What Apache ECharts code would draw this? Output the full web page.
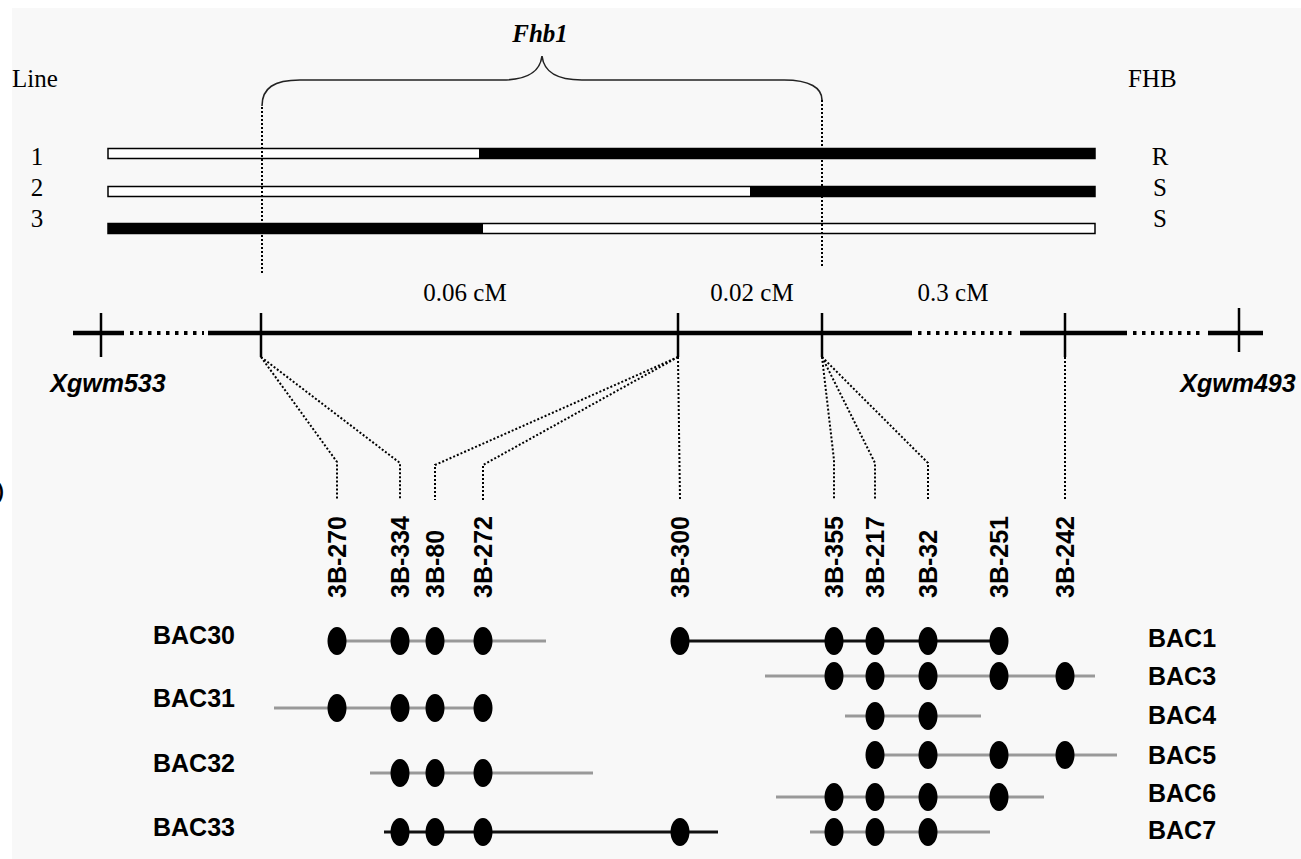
<!DOCTYPE html>
<html><head><meta charset="utf-8">
<script src="https://cdn.jsdelivr.net/npm/echarts@6/dist/echarts.min.js"></script>
<style>html,body{margin:0;padding:0;background:#fff}#c{width:1301px;height:859px}</style>
</head><body><div id="c"></div>
<script>
// ================= DATA =================
// Near-isogenic lines: introgression status along the Fhb1 region
const lineIds      = ['1', '2', '3'];
const fhbScores    = ['R', 'S', 'S'];
const lineRowY     = [153.5, 191.5, 228.5];       // row of each line (diagram units)
const lineLabelY   = [156, 187, 218];              // row of each line's id / score
const lineSpan     = [108, 1095];                  // extent of the drawn chromosome segment
const breakpointX  = [479, 750, 483];              // recombination breakpoint of each line
const donorOnLeft  = [false, false, true];         // resistant (black) segment lies left of breakpoint

// Fhb1 QTL interval
const qtlName   = 'Fhb1';
const qtlBounds = [262, 822];

// Genetic map (diagram units along the chromosome)
const mapRowY        = 333;
const mapTickX       = [101, 261, 678, 822, 1065, 1239];
const flankNames     = ['Xgwm533', 'Xgwm493'];
const flankX         = [108, 1238];
const mapSolid       = [[73, 124], [208, 912], [1020, 1127], [1208, 1263]];
const mapGaps        = [[124, 208], [912, 1020], [1127, 1208]];
const intervalLabels = ['0.06 cM', '0.02 cM', '0.3 cM'];
const intervalX      = [465, 752, 953];

// STS markers derived from BAC ends
const markerNames  = ['3B-270', '3B-334', '3B-80', '3B-272', '3B-300', '3B-355', '3B-217', '3B-32', '3B-251', '3B-242'];
const markerX      = [337, 400, 435, 483, 680, 834, 875, 928, 999, 1065];
const markerMapX   = [261, 261, 678, 678, 678, 822, 822, 822, null, 1065];   // map locus each marker is tied to
const markerKneeY  = [462, 463, 465, 465, null, 460, 463, 463, null, null];

// BAC contig
const bacNames   = ['BAC30', 'BAC31', 'BAC32', 'BAC33', 'BAC1', 'BAC3', 'BAC4', 'BAC5', 'BAC6', 'BAC7'];
const bacSide    = ['L', 'L', 'L', 'L', 'R', 'R', 'R', 'R', 'R', 'R'];
const bacRowY    = [641, 708, 773, 832, 641, 676, 716, 755, 797, 832];
const bacLabelY  = [635, 698, 763, 827, 638, 676, 715, 755, 793, 830];
const bacStart   = [337, 274, 370, 384, 683, 765, 845, 875, 776, 810];
const bacEnd     = [546, 484, 593, 718, 999, 1095, 981, 1117, 1044, 990];
const bacDark    = [false, false, false, true, true, false, false, false, false, false];
const bacMarkers = [
  ['3B-270', '3B-334', '3B-80', '3B-272'],
  ['3B-270', '3B-334', '3B-80', '3B-272'],
  ['3B-334', '3B-80', '3B-272'],
  ['3B-334', '3B-80', '3B-272', '3B-300'],
  ['3B-300', '3B-355', '3B-217', '3B-32', '3B-251'],
  ['3B-355', '3B-217', '3B-32', '3B-251', '3B-242'],
  ['3B-217', '3B-32'],
  ['3B-217', '3B-32', '3B-251', '3B-242'],
  ['3B-355', '3B-217', '3B-32', '3B-251'],
  ['3B-355', '3B-217', '3B-32']
];

// ================= RENDER =================
const INK = '#000';
const SERIF = '25px "Liberation Serif","Times New Roman",serif';
const SERIF_BI = 'italic bold 25px "Liberation Serif","Times New Roman",serif';
const SANS_B = 'bold 25px "Liberation Sans",Arial,sans-serif';
const SANS_BI = 'italic bold 25px "Liberation Sans",Arial,sans-serif';

function P(api, x, y) { return api.coord([x, y]); }
function seg(api, x1, y1, x2, y2, style) {
  const a = P(api, x1, y1), b = P(api, x2, y2);
  return { type: 'line', shape: { x1: a[0], y1: a[1], x2: b[0], y2: b[1] },
           style: Object.assign({ stroke: INK, lineWidth: 1 }, style) };
}
function poly(api, pts, style) {
  return { type: 'polyline', shape: { points: pts.map(p => P(api, p[0], p[1])) },
           style: Object.assign({ stroke: INK, fill: null, lineWidth: 1 }, style) };
}
function rect(api, x1, y1, x2, y2, style) {
  const a = P(api, x1, y1), b = P(api, x2, y2);
  return { type: 'rect', shape: { x: a[0], y: a[1], width: b[0] - a[0], height: b[1] - a[1] }, style };
}
function txt(api, x, y, s, font, extra, align) {
  const a = P(api, x, y);
  return Object.assign({ type: 'text', x: a[0], y: a[1],
    style: { text: s, font: font, fill: INK, align: align || 'center', verticalAlign: 'middle' } }, extra || {});
}
const DOT = [2, 2];

const series = [];
function addCustom(render) {
  series.push({ type: 'custom', coordinateSystem: 'cartesian2d', clip: false, silent: true,
    data: [[0, 0]], encode: { x: 0, y: 1 },
    renderItem: (params, api) => ({ type: 'group', children: render(api) }) });
}

// introgression bars
addCustom(api => {
  const ch = [];
  lineIds.forEach((id, i) => {
    const y = lineRowY[i];
    ch.push(rect(api, lineSpan[0], y - 5, lineSpan[1], y + 5, { fill: '#fff', stroke: INK, lineWidth: 1.5 }));
    const a = donorOnLeft[i] ? lineSpan[0] : breakpointX[i];
    const b = donorOnLeft[i] ? breakpointX[i] : lineSpan[1];
    ch.push(rect(api, a, y - 5.5, b, y + 5.5, { fill: INK, stroke: null }));
  });
  return ch;
});

// QTL brace + dotted bounds
addCustom(api => {
  const L = qtlBounds[0], R = qtlBounds[1], M = (L + R) / 2;
  const pts = [[L, 106], [L, 88], [L + 12, 80], [L + 38, 80], [M - 40, 80], [M - 14, 80], [M - 2, 72], [M, 56],
               [M + 2, 72], [M + 14, 80], [M + 40, 80], [R - 38, 80], [R - 12, 80], [R, 88], [R, 100]];
  const c = pts.map(p => P(api, p[0], p[1]));
  const f = q => q[0].toFixed(1) + ' ' + q[1].toFixed(1);
  const d = 'M' + f(c[0]) + ' C' + f(c[1]) + ' ' + f(c[2]) + ' ' + f(c[3]) + ' L' + f(c[4]) +
            ' C' + f(c[5]) + ' ' + f(c[6]) + ' ' + f(c[7]) + ' C' + f(c[8]) + ' ' + f(c[9]) + ' ' + f(c[10]) +
            ' L' + f(c[11]) + ' C' + f(c[12]) + ' ' + f(c[13]) + ' ' + f(c[14]);
  return [
    { type: 'path', shape: { pathData: d }, style: { stroke: '#222', fill: null, lineWidth: 1.6 } },
    seg(api, L, 107, L, 273, { lineWidth: 2, lineDash: DOT }),
    seg(api, R, 100, R, 268, { lineWidth: 2, lineDash: DOT }),
    txt(api, M - 2, 33, qtlName, SERIF_BI)
  ];
});

// genetic map
addCustom(api => {
  const ch = [];
  mapSolid.forEach(s => ch.push(seg(api, s[0], mapRowY, s[1], mapRowY, { lineWidth: 4.5 })));
  mapGaps.forEach(s => ch.push(seg(api, s[0] + 6, mapRowY, s[1] - 4, mapRowY, { lineWidth: 4, lineDash: [3.5, 5.5] })));
  mapTickX.forEach((x, i) => {
    const last = i === mapTickX.length - 1;
    ch.push(seg(api, x, last ? 308 : 313, x, last ? 352 : 357, { lineWidth: 2.5 }));
  });
  intervalLabels.forEach((s, i) => ch.push(txt(api, intervalX[i], 292, s, SERIF)));
  flankNames.forEach((s, i) => ch.push(txt(api, flankX[i], 383, s, SANS_BI)));
  return ch;
});

// marker connectors and labels
addCustom(api => {
  const ch = [];
  markerNames.forEach((m, i) => {
    const x = markerX[i];
    if (markerMapX[i] !== null) {
      const pts = [[markerMapX[i], 357]];
      if (markerKneeY[i] !== null) pts.push([x, markerKneeY[i]]);
      pts.push([x, 500]);
      ch.push(poly(api, pts, { lineWidth: 2, lineDash: DOT }));
    }
    ch.push(txt(api, x, 598, m, SANS_B, { rotation: Math.PI / 2 }, 'left'));
  });
  return ch;
});

// BAC contig
addCustom(api => {
  const ch = [];
  bacNames.forEach((b, i) => {
    const y = bacRowY[i];
    ch.push(seg(api, bacStart[i], y, bacEnd[i], y, { stroke: bacDark[i] ? '#111' : '#999', lineWidth: 3 }));
  });
  bacNames.forEach((b, i) => {
    const y = bacRowY[i];
    bacMarkers[i].forEach(m => {
      const c = P(api, markerX[markerNames.indexOf(m)], y);
      ch.push({ type: 'ellipse', shape: { cx: c[0], cy: c[1], rx: 9.5, ry: 14 }, style: { fill: INK } });
    });
    const lx = bacSide[i] === 'L' ? 153 : 1148;
    ch.push(txt(api, lx, bacLabelY[i], b, SANS_B, null, 'left'));
  });
  return ch;
});

// line ids, resistance scores, headers
addCustom(api => {
  const ch = [txt(api, 12, 78, 'Line', SERIF, null, 'left'), txt(api, 1128, 78, 'FHB', SERIF, null, 'left')];
  lineIds.forEach((id, i) => {
    ch.push(txt(api, 37, lineLabelY[i], id, SERIF));
    ch.push(txt(api, 1160, lineLabelY[i], fhbScores[i], SERIF));
  });
  ch.push(txt(api, 4, 491, ')', 'bold 20px "Liberation Sans",Arial,sans-serif', null, 'right'));
  return ch;
});

const chart = echarts.init(document.getElementById('c'), null, { renderer: 'svg', width: 1301, height: 859 });
chart.setOption({
  backgroundColor: '#fff',
  animation: false,
  grid: { left: 12, top: 8, right: 0, bottom: 0, show: true, backgroundColor: '#f8f8f8', borderWidth: 0 },
  xAxis: { type: 'value', min: 12, max: 1301, show: false },
  yAxis: { type: 'value', min: 8, max: 859, inverse: true, show: false },
  series: series
});
</script></body></html>
